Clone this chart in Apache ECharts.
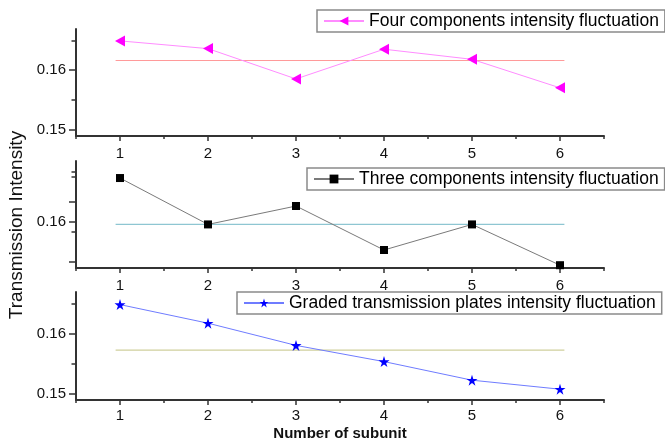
<!DOCTYPE html>
<html>
<head>
<meta charset="utf-8">
<script src="https://cdn.jsdelivr.net/npm/echarts@6/dist/echarts.min.js"></script>
<style>
  html, body { margin: 0; padding: 0; background: #fff; }
  #chart { width: 665px; height: 442px; }
</style>
</head>
<body>
<div id="chart"></div>
<script>
// Transmission intensity of each subunit, three measurement configurations
const subunits = [1, 2, 3, 4, 5, 6];
const fourComponents = [0.1649, 0.1636, 0.1585, 0.1635, 0.1618, 0.1570];
const threeComponents = [0.1655, 0.1597, 0.1620, 0.1565, 0.1597, 0.1546];
const gradedPlates = [0.1648, 0.1617, 0.1580, 0.1553, 0.1522, 0.1507];
// Average intensity of each configuration (horizontal reference lines)
const meanIntensity = [0.1616, 0.1597, 0.1572];
const meanSpan = [0.95, 6.05];

const seriesNames = [
  'Four components intensity fluctuation',
  'Three components intensity fluctuation',
  'Graded transmission plates intensity fluctuation'
];

// Axis ranges and tick values per panel
const xRange = [0.5, 6.5];
const xMajorTicks = [1, 2, 3, 4, 5, 6];
const xMinorTicks = [0.5, 1.5, 2.5, 3.5, 4.5, 5.5, 6.5];
const yRanges = [[0.1489, 0.1669], [0.15425, 0.16763], [0.1489, 0.1669]];
const yLabelValues = [[0.15, 0.16], [0.16], [0.15, 0.16]];
const yMajorTicks = [[0.15, 0.16], [0.155, 0.16, 0.1625], [0.15, 0.16]];
const yMinorTicks = [[0.155, 0.165], [0.1588, 0.1657, 0.1663], [0.155, 0.165]];

const FONT = 'Liberation Sans, Arial, Helvetica, sans-serif';
const AXIS_COLOR = '#333';

const grids = [
  { left: 76, right: 61, top: 29, height: 107 },
  { left: 76, right: 61, top: 161, height: 107 },
  { left: 76, right: 61, top: 292, height: 108 }
];

const xAxes = [];
const yAxes = [];
grids.forEach((g, i) => {
  const isLast = i === grids.length - 1;
  xAxes.push({
    type: 'value', gridIndex: i, position: 'bottom', offset: 0,
    min: xRange[0], max: xRange[1],
    axisLine: { show: true, onZero: false, lineStyle: { color: AXIS_COLOR, width: 2 } },
    axisTick: { show: true, customValues: xMajorTicks, length: 5, lineStyle: { color: AXIS_COLOR, width: 1.5 } },
    axisLabel: { show: true, customValues: xMajorTicks, margin: isLast ? 8 : 10, fontSize: 15, color: '#111', fontFamily: FONT },
    splitLine: { show: false },
    name: isLast ? 'Number of subunit' : '',
    nameLocation: 'middle', nameGap: 26,
    nameTextStyle: { fontSize: 15, fontWeight: 'bold', color: '#111', fontFamily: FONT }
  });
  xAxes.push({
    type: 'value', gridIndex: i, position: 'bottom', offset: 0,
    min: xRange[0], max: xRange[1],
    axisLine: { show: false, onZero: false },
    axisTick: { show: true, customValues: xMinorTicks, length: 3, lineStyle: { color: AXIS_COLOR, width: 1.5 } },
    axisLabel: { show: false },
    splitLine: { show: false }
  });
  yAxes.push({
    type: 'value', gridIndex: i, position: 'left', offset: 0,
    min: yRanges[i][0], max: yRanges[i][1],
    axisLine: { show: true, onZero: false, lineStyle: { color: AXIS_COLOR, width: 2 } },
    axisTick: { show: true, customValues: yMajorTicks[i], length: 7, lineStyle: { color: AXIS_COLOR, width: 1.5 } },
    axisLabel: { show: true, customValues: yLabelValues[i], margin: 10, fontSize: 15, color: '#111', fontFamily: FONT },
    splitLine: { show: false }
  });
  yAxes.push({
    type: 'value', gridIndex: i, position: 'left', offset: 0,
    min: yRanges[i][0], max: yRanges[i][1],
    axisLine: { show: false, onZero: false },
    axisTick: { show: true, customValues: yMinorTicks[i], length: 4.5, lineStyle: { color: AXIS_COLOR, width: 1.5 } },
    axisLabel: { show: false },
    splitLine: { show: false }
  });
});

const TRIANGLE_LEFT = 'path://M0,5 L10,0 L10,10 Z';
const STAR = 'path://M50,0 L61.2,34.5 L97.6,34.5 L68.2,55.9 L79.4,90.5 L50,69.1 L20.6,90.5 L31.8,55.9 L2.4,34.5 L38.8,34.5 Z';

const panels = [
  { values: fourComponents, symbol: TRIANGLE_LEFT, size: [10, 11], mark: '#ff00ff', line: '#ff8cff', mean: '#ff9a9a' },
  { values: threeComponents, symbol: 'rect', size: 8, mark: '#000000', line: '#7a7a7a', mean: '#8ec6d2' },
  { values: gradedPlates, symbol: STAR, size: 11, mark: '#0000ff', line: '#6f7cff', mean: '#cfcf9c' }
];

const series = [];
panels.forEach((p, i) => {
  series.push({
    type: 'line',
    name: seriesNames[i],
    xAxisIndex: 2 * i, yAxisIndex: 2 * i,
    data: subunits.map((s, k) => [s, p.values[k]]),
    symbol: p.symbol, symbolSize: p.size,
    itemStyle: { color: p.mark },
    lineStyle: { color: p.line, width: 1 },
    z: 3
  });
  series.push({
    type: 'line',
    xAxisIndex: 2 * i, yAxisIndex: 2 * i,
    data: meanSpan.map(x => [x, meanIntensity[i]]),
    symbol: 'none', silent: true,
    lineStyle: { color: p.mean, width: 1.2 },
    z: 2
  });
});

const legendBase = {
  orient: 'horizontal',
  itemWidth: 40, itemHeight: 11, itemGap: 5,
  padding: [2, 6, 2, 6],
  borderColor: '#8a8a8a', borderWidth: 1.5,
  backgroundColor: '#fff',
  textStyle: { fontSize: 17.5, color: '#000', fontFamily: FONT }
};
const legendPos = [[317, 10], [307, 168], [237, 292]];
const legends = seriesNames.map((n, i) => Object.assign({}, legendBase, {
  data: [n], left: legendPos[i][0], top: legendPos[i][1]
}));

const chart = echarts.init(document.getElementById('chart'), null, { renderer: 'canvas' });
chart.setOption({
  animation: false,
  backgroundColor: '#fff',
  grid: grids,
  xAxis: xAxes,
  yAxis: yAxes,
  legend: legends,
  series: series,
  graphic: [{
    type: 'text',
    x: 17, y: 225,
    rotation: Math.PI / 2,
    style: {
      text: 'Transmission Intensity',
      fontSize: 19, fontFamily: FONT, fill: '#111',
      align: 'center', verticalAlign: 'middle'
    }
  }]
});
</script>
</body>
</html>
